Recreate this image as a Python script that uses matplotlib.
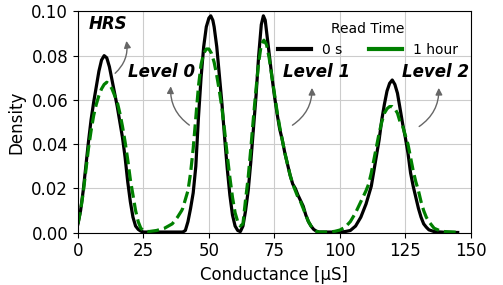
import matplotlib
matplotlib.use('Agg')
import matplotlib.pyplot as plt
from matplotlib.lines import Line2D

# density curves (conductance in uS)
x_0s = [0, 1, 2, 3, 4, 5, 6, 7, 8, 9, 10, 11, 12, 13, 14, 15, 16, 17, 18, 19, 20,
        21, 22, 23, 24, 25, 40,
        41, 42, 43, 44, 45, 46, 47, 48, 49, 50, 50.7, 51.5, 52, 53, 54, 55, 56, 57, 58,
        59, 60, 61, 62,
        63, 64, 65, 66, 67, 68, 69, 70, 70.8, 71.5, 72, 73, 74, 75, 76, 77, 78, 79, 80,
        81, 82, 83, 84, 85, 86, 87, 88, 89, 90, 91, 92, 100,
        102, 104, 106, 108, 110, 111, 112, 113, 114, 115, 116, 117, 118, 119, 120, 121,
        122, 123, 124, 125, 126, 127, 128, 129, 130, 131, 132, 133, 134, 136, 140, 145]
y_0s = [0.004, 0.010, 0.019, 0.030, 0.041, 0.051, 0.059, 0.066, 0.073, 0.078, 0.080,
        0.079, 0.075, 0.069, 0.063, 0.057, 0.050, 0.043, 0.034, 0.023, 0.014,
        0.007, 0.003, 0.0015, 0.0007, 0.0003, 0.0003,
        0.001, 0.005, 0.011, 0.018, 0.030, 0.052, 0.070, 0.084, 0.093, 0.097, 0.098,
        0.096, 0.093, 0.084, 0.071, 0.058, 0.043, 0.029, 0.017,
        0.008, 0.003, 0.001, 0.0005,
        0.003, 0.010, 0.019, 0.032, 0.047, 0.062, 0.080, 0.094, 0.098, 0.096, 0.091,
        0.081, 0.071, 0.062, 0.054, 0.047, 0.042, 0.036, 0.031,
        0.026, 0.022, 0.020, 0.017, 0.0145, 0.012, 0.008, 0.005, 0.003, 0.0015, 0.0007,
        0.0003, 0.0003,
        0.0005, 0.001, 0.003, 0.007, 0.013, 0.017, 0.021, 0.028, 0.035, 0.042, 0.051,
        0.058, 0.064, 0.0675, 0.069, 0.067,
        0.063, 0.056, 0.049, 0.043, 0.036, 0.027, 0.021, 0.016, 0.011, 0.007, 0.004,
        0.0025, 0.0013, 0.0005, 0.0002, 0.0001]

x_1h = [0, 1, 2, 3, 4, 5, 6, 7, 8, 9, 10, 11, 12, 13, 14, 15, 16, 17, 18, 19, 20,
        21, 22, 23, 24, 25, 27, 30, 33, 36, 38, 39.6,
        40, 41, 42, 43, 44, 45, 46, 47, 48, 49, 50, 51, 52, 53, 54, 55, 56, 57, 58, 59,
        60, 61, 62, 63,
        64, 65, 66, 67, 68, 69, 70, 71, 72, 73, 74, 75, 76, 77, 78, 79, 80, 81, 82, 83,
        84, 85, 86, 87, 88, 89, 90, 91, 92,
        96, 98, 100, 102, 104, 106, 108, 110, 111, 112, 113, 114, 115, 116, 117, 118,
        119, 120, 121, 122, 123, 124, 125, 126, 127, 128, 129, 130, 131, 132, 133, 134,
        136, 138, 140, 145]
y_1h = [0.004, 0.010, 0.018, 0.028, 0.038, 0.046, 0.053, 0.058, 0.062, 0.065, 0.067,
        0.068, 0.067, 0.065, 0.062, 0.059, 0.054, 0.048, 0.041, 0.033, 0.024,
        0.017, 0.010, 0.005, 0.002, 0.001, 0.0005, 0.001, 0.002, 0.004, 0.007, 0.010,
        0.011, 0.015, 0.019, 0.027, 0.038, 0.052, 0.066, 0.076, 0.081, 0.083, 0.083,
        0.081, 0.077, 0.071, 0.064, 0.056, 0.046, 0.035, 0.025, 0.016,
        0.009, 0.005, 0.003, 0.004,
        0.015, 0.025, 0.038, 0.052, 0.065, 0.077, 0.085, 0.087, 0.085, 0.079, 0.071,
        0.063, 0.055, 0.048, 0.042, 0.036, 0.031, 0.026, 0.022, 0.019,
        0.016, 0.014, 0.011, 0.008, 0.005, 0.003, 0.0015, 0.0007, 0.0003,
        0.0003, 0.0006, 0.0012, 0.0025, 0.005, 0.009, 0.014, 0.019, 0.022, 0.027, 0.033,
        0.039, 0.045, 0.050, 0.054, 0.056,
        0.057, 0.057, 0.056, 0.054, 0.050, 0.048, 0.044, 0.040, 0.034, 0.028, 0.023,
        0.019, 0.014, 0.010, 0.007, 0.005,
        0.002, 0.001, 0.0005, 0.0002]

# labels: (text, text x, text y, arrow head x, head y, tail x, tail y, rad)
labels = [
    ('HRS', 11.5, 0.0945, 18.3, 0.0879, 13.4, 0.0712, 0.3),
    ('Level 0', 32.1, 0.0725, 35.5, 0.0674, 43.4, 0.0479, -0.3),
    ('Level 1', 91.2, 0.0724, 89.3, 0.0667, 81.0, 0.0479, 0.3),
    ('Level 2', 136.4, 0.0724, 137.7, 0.0667, 129.4, 0.0473, 0.3),
]

fig = plt.figure(figsize=(5.03, 2.85), dpi=100)
ax = fig.add_axes([0.155, 0.1835, 0.781, 0.7765])

ax.plot(x_0s, y_0s, color='black', lw=2.3)
ax.plot(x_1h, y_1h, color='green', lw=2.3, ls='--')

for txt, tx, ty, hx, hy, sx, sy, rad in labels:
    ax.annotate('', xy=(hx, hy), xytext=(sx, sy),
                arrowprops=dict(arrowstyle='-|>', color='0.4', lw=1,
                                connectionstyle=f'arc3,rad={rad}'))
    ax.text(tx, ty, txt, fontsize=12, fontweight='bold', fontstyle='italic',
            ha='center', va='center')

ax.set_xlim(0, 150)
ax.set_ylim(0, 0.10)
ax.set_xticks([0, 25, 50, 75, 100, 125, 150])
ax.set_yticks([0, 0.02, 0.04, 0.06, 0.08, 0.10])
ax.yaxis.set_major_formatter(plt.FormatStrFormatter('%.2f'))
ax.tick_params(labelsize=12)
ax.set_xlabel('Conductance [µS]', fontsize=12)
ax.set_ylabel('Density', fontsize=12)
ax.grid(True, color='0.8')

handles = [Line2D([], [], color='black', lw=3), Line2D([], [], color='green', lw=3)]
ax.legend(handles, ['0 s', '1 hour'], title='Read Time', ncol=2, frameon=False,
          fontsize=10, title_fontsize=10, loc='upper right',
          bbox_to_anchor=(1.0, 1.01), handlelength=2.4, columnspacing=1.9)

plt.savefig('out.png', dpi=100)
